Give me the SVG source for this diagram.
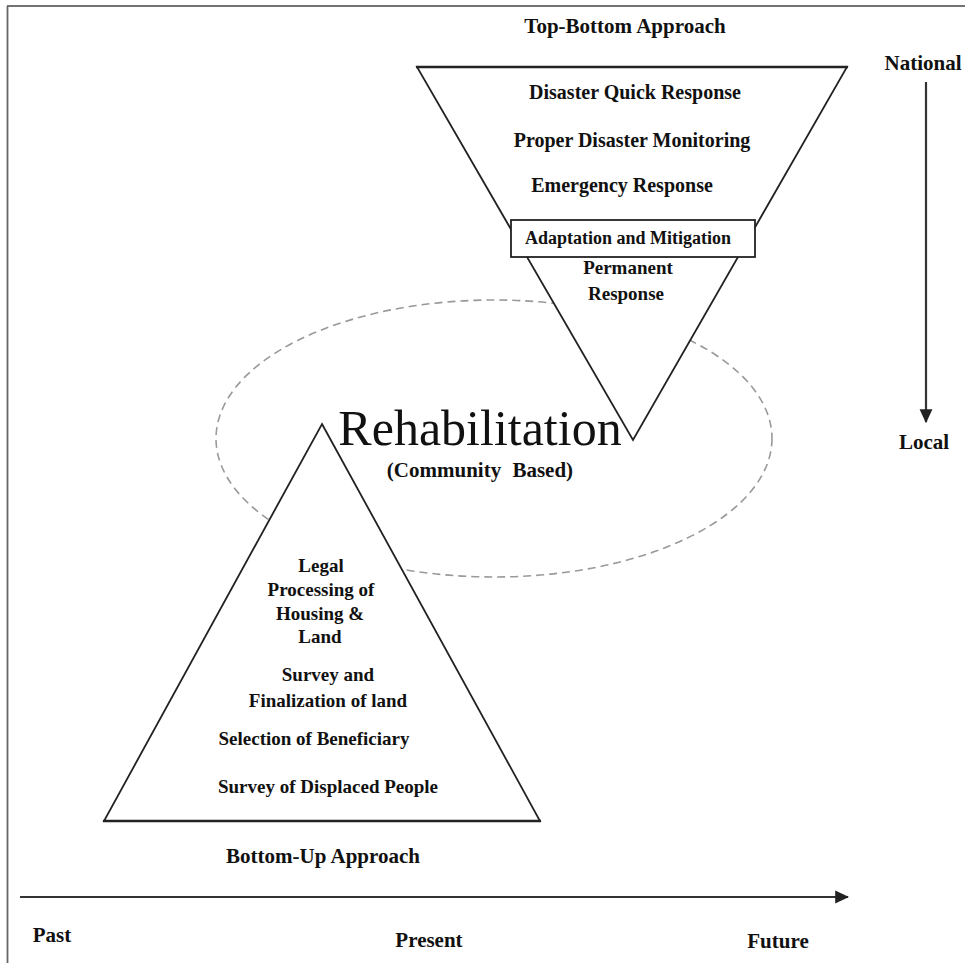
<svg xmlns="http://www.w3.org/2000/svg" width="965" height="963" viewBox="0 0 965 963">
<defs>
<style>
.t{font-family:"Liberation Serif","Times New Roman",serif;font-weight:bold;fill:#111;}
.s20{font-size:20px;}
.s19{font-size:19px;}
.s21{font-size:21px;}
.shape{fill:#fff;stroke:#222;stroke-width:1.8;stroke-linejoin:miter;}
.conn{stroke:#333;stroke-width:2.2;fill:none;}
</style>
<marker id="ah" markerUnits="userSpaceOnUse" markerWidth="14" markerHeight="14" viewBox="0 0 12 12" refX="11" refY="6" orient="auto">
<path d="M0,0.5 L12,6 L0,11.5 Z" fill="#222"/>
</marker>
</defs>
<rect x="0" y="0" width="965" height="963" fill="#fff"/>
<g id="border" fill="none">
<line x1="7" y1="6" x2="965" y2="6" stroke="#444" stroke-width="1.6"/>
<line x1="7.5" y1="6" x2="7.5" y2="963" stroke="#666" stroke-width="1.8"/>
</g>
<g id="rehabilitation">
<ellipse cx="494" cy="438.5" rx="278" ry="138.5" fill="none" stroke="#999" stroke-width="1.6" stroke-dasharray="8 5"/>
</g>
<g id="top-bottom-triangle">
<polygon class="shape" points="417,67 847,67 633,440"/>
<line x1="416" y1="67" x2="848" y2="67" stroke="#222" stroke-width="2.6"/>
<text class="t s20" x="635" y="99" text-anchor="middle">Disaster Quick Response</text>
<text class="t s20" x="632" y="147" text-anchor="middle">Proper Disaster Monitoring</text>
<text class="t s20" x="622" y="192" text-anchor="middle">Emergency Response</text>
<text class="t s19" x="628" y="274" text-anchor="middle">Permanent</text>
<text class="t s19" x="626" y="300" text-anchor="middle">Response</text>
</g>
<g id="adaptation-box">
<rect class="shape" x="511" y="220" width="244" height="37"/>
<text class="t" style="font-size:18px" x="628" y="244" text-anchor="middle">Adaptation and Mitigation</text>
</g>
<g id="bottom-up-triangle">
<polygon class="shape" points="322,424 540,821 104,821"/>
<line x1="103" y1="821" x2="541" y2="821" stroke="#222" stroke-width="2.6"/>
<text class="t s19" x="321" y="572" text-anchor="middle">Legal</text>
<text class="t s19" x="321" y="596" text-anchor="middle">Processing of</text>
<text class="t s19" x="320" y="620" text-anchor="middle">Housing &amp;</text>
<text class="t s19" x="320" y="643" text-anchor="middle">Land</text>
<text class="t s19" x="328" y="681" text-anchor="middle">Survey and</text>
<text class="t s19" x="328" y="707" text-anchor="middle">Finalization of land</text>
<text class="t s19" x="314" y="745" text-anchor="middle">Selection of Beneficiary</text>
<text class="t s19" x="328" y="793" text-anchor="middle">Survey of Displaced People</text>
</g>
<g id="rehabilitation-label">
<text x="480" y="445" text-anchor="middle" style="font-family:'Liberation Serif','Times New Roman',serif;font-size:50px;fill:#111;">Rehabilitation</text>
<text class="t s21" x="480" y="477" text-anchor="middle" style="word-spacing:6px">(Community Based)</text>
</g>
<g id="labels">
<text class="t s21" x="625" y="33" text-anchor="middle">Top-Bottom Approach</text>
<text class="t s21" x="323" y="863" text-anchor="middle">Bottom-Up Approach</text>
<text class="t s21" x="923" y="70" text-anchor="middle">National</text>
<text class="t s21" x="924" y="449" text-anchor="middle">Local</text>
<text class="t s21" x="52" y="942" text-anchor="middle">Past</text>
<text class="t s21" x="429" y="947" text-anchor="middle">Present</text>
<text class="t s21" x="778" y="948" text-anchor="middle">Future</text>
</g>
<g id="connectors">
<line class="conn" x1="926" y1="82" x2="926" y2="422" marker-end="url(#ah)"/>
<line class="conn" x1="20" y1="897" x2="848" y2="897" stroke-width="2.6" marker-end="url(#ah)"/>
</g>
</svg>
